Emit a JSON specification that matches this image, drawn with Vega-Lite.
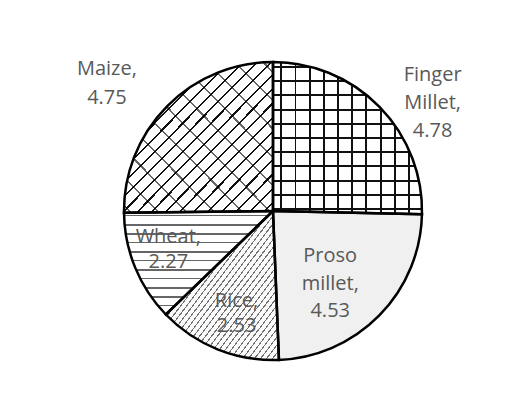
{
  "$schema": "https://vega.github.io/schema/vega-lite/v6.json",
  "width": 486,
  "height": 382,
  "autosize": {"type": "none"},
  "padding": {"left": 30, "top": 20, "right": 0, "bottom": 0},
  "background": "white",
  "config": {"view": {"stroke": null}},
  "data": {
    "values": [
      {"crop": "Finger Millet", "value": 4.78, "label": "Finger|Millet,|4.78", "order": 1},
      {"crop": "Proso millet", "value": 4.53, "label": "Proso|millet,|4.53", "order": 2},
      {"crop": "Rice", "value": 2.53, "label": "Rice,|2.53", "order": 3},
      {"crop": "Wheat", "value": 2.27, "label": "Wheat,|2.27", "order": 4},
      {"crop": "Maize", "value": 4.75, "label": "Maize,|4.75", "order": 5}
    ]
  },
  "encoding": {
    "theta": {"field": "value", "type": "quantitative", "stack": true},
    "order": {"field": "order", "type": "quantitative"}
  },
  "layer": [
    {
      "mark": {"type": "arc", "outerRadius": 149, "strokeWidth": 0},
      "encoding": {
        "color": {
          "field": "crop",
          "type": "nominal",
          "scale": {
            "domain": ["Finger Millet", "Proso millet", "Rice", "Wheat", "Maize"],
            "range": ["#ffffff", "#f0f0f0", "#fafafa", "#ffffff", "#ffffff"]
          },
          "legend": null
        }
      }
    },
    {
      "mark": {"type": "arc", "outerRadius": 149, "strokeWidth": 0},
      "encoding": {
        "fill": {
          "condition": {
            "test": "datum.crop == 'Finger Millet'",
            "value": {
              "gradient": "linear", "x1": 0, "y1": 0, "x2": 1, "y2": 0,
              "stops": [
                {"offset": 0.049, "color": "rgba(0,0,0,0)"}, {"offset": 0.049, "color": "#111111"}, {"offset": 0.0624, "color": "#111111"}, {"offset": 0.0624, "color": "rgba(0,0,0,0)"},
                {"offset": 0.1443, "color": "rgba(0,0,0,0)"}, {"offset": 0.1443, "color": "#111111"}, {"offset": 0.1577, "color": "#111111"}, {"offset": 0.1577, "color": "rgba(0,0,0,0)"},
                {"offset": 0.2396, "color": "rgba(0,0,0,0)"}, {"offset": 0.2396, "color": "#111111"}, {"offset": 0.253, "color": "#111111"}, {"offset": 0.253, "color": "rgba(0,0,0,0)"},
                {"offset": 0.3349, "color": "rgba(0,0,0,0)"}, {"offset": 0.3349, "color": "#111111"}, {"offset": 0.3483, "color": "#111111"}, {"offset": 0.3483, "color": "rgba(0,0,0,0)"},
                {"offset": 0.4302, "color": "rgba(0,0,0,0)"}, {"offset": 0.4302, "color": "#111111"}, {"offset": 0.4436, "color": "#111111"}, {"offset": 0.4436, "color": "rgba(0,0,0,0)"},
                {"offset": 0.5255, "color": "rgba(0,0,0,0)"}, {"offset": 0.5255, "color": "#111111"}, {"offset": 0.5389, "color": "#111111"}, {"offset": 0.5389, "color": "rgba(0,0,0,0)"},
                {"offset": 0.6208, "color": "rgba(0,0,0,0)"}, {"offset": 0.6208, "color": "#111111"}, {"offset": 0.6342, "color": "#111111"}, {"offset": 0.6342, "color": "rgba(0,0,0,0)"},
                {"offset": 0.7161, "color": "rgba(0,0,0,0)"}, {"offset": 0.7161, "color": "#111111"}, {"offset": 0.7295, "color": "#111111"}, {"offset": 0.7295, "color": "rgba(0,0,0,0)"},
                {"offset": 0.8114, "color": "rgba(0,0,0,0)"}, {"offset": 0.8114, "color": "#111111"}, {"offset": 0.8248, "color": "#111111"}, {"offset": 0.8248, "color": "rgba(0,0,0,0)"},
                {"offset": 0.9067, "color": "rgba(0,0,0,0)"}, {"offset": 0.9067, "color": "#111111"}, {"offset": 0.9201, "color": "#111111"}, {"offset": 0.9201, "color": "rgba(0,0,0,0)"}
              ]
            }
          },
          "value": "rgba(0,0,0,0)"
        }
      }
    },
    {
      "mark": {"type": "arc", "outerRadius": 149, "strokeWidth": 0},
      "encoding": {
        "fill": {
          "condition": {
            "test": "datum.crop == 'Finger Millet'",
            "value": {
              "gradient": "linear", "x1": 0, "y1": 0, "x2": 0, "y2": 1,
              "stops": [
                {"offset": 0.0263, "color": "rgba(0,0,0,0)"}, {"offset": 0.0263, "color": "#111111"}, {"offset": 0.0394, "color": "#111111"}, {"offset": 0.0394, "color": "rgba(0,0,0,0)"},
                {"offset": 0.1197, "color": "rgba(0,0,0,0)"}, {"offset": 0.1197, "color": "#111111"}, {"offset": 0.1328, "color": "#111111"}, {"offset": 0.1328, "color": "rgba(0,0,0,0)"},
                {"offset": 0.213, "color": "rgba(0,0,0,0)"}, {"offset": 0.213, "color": "#111111"}, {"offset": 0.2261, "color": "#111111"}, {"offset": 0.2261, "color": "rgba(0,0,0,0)"},
                {"offset": 0.3064, "color": "rgba(0,0,0,0)"}, {"offset": 0.3064, "color": "#111111"}, {"offset": 0.3195, "color": "#111111"}, {"offset": 0.3195, "color": "rgba(0,0,0,0)"},
                {"offset": 0.3997, "color": "rgba(0,0,0,0)"}, {"offset": 0.3997, "color": "#111111"}, {"offset": 0.4128, "color": "#111111"}, {"offset": 0.4128, "color": "rgba(0,0,0,0)"},
                {"offset": 0.4931, "color": "rgba(0,0,0,0)"}, {"offset": 0.4931, "color": "#111111"}, {"offset": 0.5062, "color": "#111111"}, {"offset": 0.5062, "color": "rgba(0,0,0,0)"},
                {"offset": 0.5865, "color": "rgba(0,0,0,0)"}, {"offset": 0.5865, "color": "#111111"}, {"offset": 0.5996, "color": "#111111"}, {"offset": 0.5996, "color": "rgba(0,0,0,0)"},
                {"offset": 0.6798, "color": "rgba(0,0,0,0)"}, {"offset": 0.6798, "color": "#111111"}, {"offset": 0.6929, "color": "#111111"}, {"offset": 0.6929, "color": "rgba(0,0,0,0)"},
                {"offset": 0.7732, "color": "rgba(0,0,0,0)"}, {"offset": 0.7732, "color": "#111111"}, {"offset": 0.7863, "color": "#111111"}, {"offset": 0.7863, "color": "rgba(0,0,0,0)"},
                {"offset": 0.8665, "color": "rgba(0,0,0,0)"}, {"offset": 0.8665, "color": "#111111"}, {"offset": 0.8796, "color": "#111111"}, {"offset": 0.8796, "color": "rgba(0,0,0,0)"},
                {"offset": 0.9599, "color": "rgba(0,0,0,0)"}, {"offset": 0.9599, "color": "#111111"}, {"offset": 0.973, "color": "#111111"}, {"offset": 0.973, "color": "rgba(0,0,0,0)"}
              ]
            }
          },
          "value": "rgba(0,0,0,0)"
        }
      }
    },
    {
      "mark": {"type": "arc", "outerRadius": 149, "strokeWidth": 0},
      "encoding": {
        "fill": {
          "condition": {
            "test": "datum.crop == 'Maize'",
            "value": {
              "gradient": "linear", "x1": 0, "y1": 0, "x2": 1, "y2": 1,
              "stops": [
                {"offset": 0.02, "color": "rgba(0,0,0,0)"}, {"offset": 0.02, "color": "#111111"}, {"offset": 0.0271, "color": "#111111"}, {"offset": 0.0271, "color": "rgba(0,0,0,0)"},
                {"offset": 0.0671, "color": "rgba(0,0,0,0)"}, {"offset": 0.0671, "color": "#111111"}, {"offset": 0.0742, "color": "#111111"}, {"offset": 0.0742, "color": "rgba(0,0,0,0)"},
                {"offset": 0.1142, "color": "rgba(0,0,0,0)"}, {"offset": 0.1142, "color": "#111111"}, {"offset": 0.1213, "color": "#111111"}, {"offset": 0.1213, "color": "rgba(0,0,0,0)"},
                {"offset": 0.1613, "color": "rgba(0,0,0,0)"}, {"offset": 0.1613, "color": "#111111"}, {"offset": 0.1684, "color": "#111111"}, {"offset": 0.1684, "color": "rgba(0,0,0,0)"},
                {"offset": 0.2084, "color": "rgba(0,0,0,0)"}, {"offset": 0.2084, "color": "#111111"}, {"offset": 0.2155, "color": "#111111"}, {"offset": 0.2155, "color": "rgba(0,0,0,0)"},
                {"offset": 0.2555, "color": "rgba(0,0,0,0)"}, {"offset": 0.2555, "color": "#111111"}, {"offset": 0.2626, "color": "#111111"}, {"offset": 0.2626, "color": "rgba(0,0,0,0)"},
                {"offset": 0.3026, "color": "rgba(0,0,0,0)"}, {"offset": 0.3026, "color": "#111111"}, {"offset": 0.3097, "color": "#111111"}, {"offset": 0.3097, "color": "rgba(0,0,0,0)"},
                {"offset": 0.3497, "color": "rgba(0,0,0,0)"}, {"offset": 0.3497, "color": "#111111"}, {"offset": 0.3568, "color": "#111111"}, {"offset": 0.3568, "color": "rgba(0,0,0,0)"},
                {"offset": 0.3968, "color": "rgba(0,0,0,0)"}, {"offset": 0.3968, "color": "#111111"}, {"offset": 0.4039, "color": "#111111"}, {"offset": 0.4039, "color": "rgba(0,0,0,0)"},
                {"offset": 0.4439, "color": "rgba(0,0,0,0)"}, {"offset": 0.4439, "color": "#111111"}, {"offset": 0.451, "color": "#111111"}, {"offset": 0.451, "color": "rgba(0,0,0,0)"},
                {"offset": 0.491, "color": "rgba(0,0,0,0)"}, {"offset": 0.491, "color": "#111111"}, {"offset": 0.4981, "color": "#111111"}, {"offset": 0.4981, "color": "rgba(0,0,0,0)"},
                {"offset": 0.5381, "color": "rgba(0,0,0,0)"}, {"offset": 0.5381, "color": "#111111"}, {"offset": 0.5452, "color": "#111111"}, {"offset": 0.5452, "color": "rgba(0,0,0,0)"},
                {"offset": 0.5852, "color": "rgba(0,0,0,0)"}, {"offset": 0.5852, "color": "#111111"}, {"offset": 0.5923, "color": "#111111"}, {"offset": 0.5923, "color": "rgba(0,0,0,0)"},
                {"offset": 0.6323, "color": "rgba(0,0,0,0)"}, {"offset": 0.6323, "color": "#111111"}, {"offset": 0.6394, "color": "#111111"}, {"offset": 0.6394, "color": "rgba(0,0,0,0)"},
                {"offset": 0.6794, "color": "rgba(0,0,0,0)"}, {"offset": 0.6794, "color": "#111111"}, {"offset": 0.6865, "color": "#111111"}, {"offset": 0.6865, "color": "rgba(0,0,0,0)"},
                {"offset": 0.7265, "color": "rgba(0,0,0,0)"}, {"offset": 0.7265, "color": "#111111"}, {"offset": 0.7336, "color": "#111111"}, {"offset": 0.7336, "color": "rgba(0,0,0,0)"},
                {"offset": 0.7736, "color": "rgba(0,0,0,0)"}, {"offset": 0.7736, "color": "#111111"}, {"offset": 0.7807, "color": "#111111"}, {"offset": 0.7807, "color": "rgba(0,0,0,0)"},
                {"offset": 0.8207, "color": "rgba(0,0,0,0)"}, {"offset": 0.8207, "color": "#111111"}, {"offset": 0.8278, "color": "#111111"}, {"offset": 0.8278, "color": "rgba(0,0,0,0)"},
                {"offset": 0.8678, "color": "rgba(0,0,0,0)"}, {"offset": 0.8678, "color": "#111111"}, {"offset": 0.8749, "color": "#111111"}, {"offset": 0.8749, "color": "rgba(0,0,0,0)"},
                {"offset": 0.9149, "color": "rgba(0,0,0,0)"}, {"offset": 0.9149, "color": "#111111"}, {"offset": 0.922, "color": "#111111"}, {"offset": 0.922, "color": "rgba(0,0,0,0)"},
                {"offset": 0.962, "color": "rgba(0,0,0,0)"}, {"offset": 0.962, "color": "#111111"}, {"offset": 0.9691, "color": "#111111"}, {"offset": 0.9691, "color": "rgba(0,0,0,0)"}
              ]
            }
          },
          "value": "rgba(0,0,0,0)"
        }
      }
    },
    {
      "mark": {"type": "arc", "outerRadius": 149, "strokeWidth": 0},
      "encoding": {
        "fill": {
          "condition": {
            "test": "datum.crop == 'Maize'",
            "value": {
              "gradient": "linear", "x1": 1, "y1": 0, "x2": 0, "y2": 1,
              "stops": [
                {"offset": 0.03, "color": "rgba(0,0,0,0)"}, {"offset": 0.03, "color": "rgba(0,0,0,0.6)"}, {"offset": 0.0371, "color": "rgba(0,0,0,0.6)"}, {"offset": 0.0371, "color": "rgba(0,0,0,0)"},
                {"offset": 0.1243, "color": "rgba(0,0,0,0)"}, {"offset": 0.1243, "color": "rgba(0,0,0,0.6)"}, {"offset": 0.1314, "color": "rgba(0,0,0,0.6)"}, {"offset": 0.1314, "color": "rgba(0,0,0,0)"},
                {"offset": 0.2186, "color": "rgba(0,0,0,0)"}, {"offset": 0.2186, "color": "rgba(0,0,0,0.6)"}, {"offset": 0.2257, "color": "rgba(0,0,0,0.6)"}, {"offset": 0.2257, "color": "rgba(0,0,0,0)"},
                {"offset": 0.3129, "color": "rgba(0,0,0,0)"}, {"offset": 0.3129, "color": "rgba(0,0,0,0.6)"}, {"offset": 0.32, "color": "rgba(0,0,0,0.6)"}, {"offset": 0.32, "color": "rgba(0,0,0,0)"},
                {"offset": 0.4072, "color": "rgba(0,0,0,0)"}, {"offset": 0.4072, "color": "rgba(0,0,0,0.6)"}, {"offset": 0.4143, "color": "rgba(0,0,0,0.6)"}, {"offset": 0.4143, "color": "rgba(0,0,0,0)"},
                {"offset": 0.5015, "color": "rgba(0,0,0,0)"}, {"offset": 0.5015, "color": "rgba(0,0,0,0.6)"}, {"offset": 0.5086, "color": "rgba(0,0,0,0.6)"}, {"offset": 0.5086, "color": "rgba(0,0,0,0)"},
                {"offset": 0.5958, "color": "rgba(0,0,0,0)"}, {"offset": 0.5958, "color": "rgba(0,0,0,0.6)"}, {"offset": 0.6029, "color": "rgba(0,0,0,0.6)"}, {"offset": 0.6029, "color": "rgba(0,0,0,0)"},
                {"offset": 0.6901, "color": "rgba(0,0,0,0)"}, {"offset": 0.6901, "color": "rgba(0,0,0,0.6)"}, {"offset": 0.6972, "color": "rgba(0,0,0,0.6)"}, {"offset": 0.6972, "color": "rgba(0,0,0,0)"},
                {"offset": 0.7844, "color": "rgba(0,0,0,0)"}, {"offset": 0.7844, "color": "rgba(0,0,0,0.6)"}, {"offset": 0.7915, "color": "rgba(0,0,0,0.6)"}, {"offset": 0.7915, "color": "rgba(0,0,0,0)"},
                {"offset": 0.8787, "color": "rgba(0,0,0,0)"}, {"offset": 0.8787, "color": "rgba(0,0,0,0.6)"}, {"offset": 0.8858, "color": "rgba(0,0,0,0.6)"}, {"offset": 0.8858, "color": "rgba(0,0,0,0)"},
                {"offset": 0.973, "color": "rgba(0,0,0,0)"}, {"offset": 0.973, "color": "rgba(0,0,0,0.6)"}, {"offset": 0.9801, "color": "rgba(0,0,0,0.6)"}, {"offset": 0.9801, "color": "rgba(0,0,0,0)"}
              ]
            }
          },
          "value": "rgba(0,0,0,0)"
        }
      }
    },
    {
      "mark": {"type": "arc", "outerRadius": 149, "strokeWidth": 0},
      "encoding": {
        "fill": {
          "condition": {
            "test": "datum.crop == 'Rice'",
            "value": {
              "gradient": "linear", "x1": 0, "y1": 0, "x2": 1, "y2": 1,
              "stops": [
                {"offset": 0.01, "color": "rgba(0,0,0,0)"}, {"offset": 0.01, "color": "rgba(0,0,0,0.55)"}, {"offset": 0.0158, "color": "rgba(0,0,0,0.55)"}, {"offset": 0.0158, "color": "rgba(0,0,0,0)"},
                {"offset": 0.0365, "color": "rgba(0,0,0,0)"}, {"offset": 0.0365, "color": "rgba(0,0,0,0.55)"}, {"offset": 0.0423, "color": "rgba(0,0,0,0.55)"}, {"offset": 0.0423, "color": "rgba(0,0,0,0)"},
                {"offset": 0.063, "color": "rgba(0,0,0,0)"}, {"offset": 0.063, "color": "rgba(0,0,0,0.55)"}, {"offset": 0.0688, "color": "rgba(0,0,0,0.55)"}, {"offset": 0.0688, "color": "rgba(0,0,0,0)"},
                {"offset": 0.0895, "color": "rgba(0,0,0,0)"}, {"offset": 0.0895, "color": "rgba(0,0,0,0.55)"}, {"offset": 0.0953, "color": "rgba(0,0,0,0.55)"}, {"offset": 0.0953, "color": "rgba(0,0,0,0)"},
                {"offset": 0.116, "color": "rgba(0,0,0,0)"}, {"offset": 0.116, "color": "rgba(0,0,0,0.55)"}, {"offset": 0.1218, "color": "rgba(0,0,0,0.55)"}, {"offset": 0.1218, "color": "rgba(0,0,0,0)"},
                {"offset": 0.1425, "color": "rgba(0,0,0,0)"}, {"offset": 0.1425, "color": "rgba(0,0,0,0.55)"}, {"offset": 0.1483, "color": "rgba(0,0,0,0.55)"}, {"offset": 0.1483, "color": "rgba(0,0,0,0)"},
                {"offset": 0.169, "color": "rgba(0,0,0,0)"}, {"offset": 0.169, "color": "rgba(0,0,0,0.55)"}, {"offset": 0.1748, "color": "rgba(0,0,0,0.55)"}, {"offset": 0.1748, "color": "rgba(0,0,0,0)"},
                {"offset": 0.1955, "color": "rgba(0,0,0,0)"}, {"offset": 0.1955, "color": "rgba(0,0,0,0.55)"}, {"offset": 0.2013, "color": "rgba(0,0,0,0.55)"}, {"offset": 0.2013, "color": "rgba(0,0,0,0)"},
                {"offset": 0.222, "color": "rgba(0,0,0,0)"}, {"offset": 0.222, "color": "rgba(0,0,0,0.55)"}, {"offset": 0.2278, "color": "rgba(0,0,0,0.55)"}, {"offset": 0.2278, "color": "rgba(0,0,0,0)"},
                {"offset": 0.2485, "color": "rgba(0,0,0,0)"}, {"offset": 0.2485, "color": "rgba(0,0,0,0.55)"}, {"offset": 0.2543, "color": "rgba(0,0,0,0.55)"}, {"offset": 0.2543, "color": "rgba(0,0,0,0)"},
                {"offset": 0.275, "color": "rgba(0,0,0,0)"}, {"offset": 0.275, "color": "rgba(0,0,0,0.55)"}, {"offset": 0.2808, "color": "rgba(0,0,0,0.55)"}, {"offset": 0.2808, "color": "rgba(0,0,0,0)"},
                {"offset": 0.3015, "color": "rgba(0,0,0,0)"}, {"offset": 0.3015, "color": "rgba(0,0,0,0.55)"}, {"offset": 0.3073, "color": "rgba(0,0,0,0.55)"}, {"offset": 0.3073, "color": "rgba(0,0,0,0)"},
                {"offset": 0.328, "color": "rgba(0,0,0,0)"}, {"offset": 0.328, "color": "rgba(0,0,0,0.55)"}, {"offset": 0.3338, "color": "rgba(0,0,0,0.55)"}, {"offset": 0.3338, "color": "rgba(0,0,0,0)"},
                {"offset": 0.3545, "color": "rgba(0,0,0,0)"}, {"offset": 0.3545, "color": "rgba(0,0,0,0.55)"}, {"offset": 0.3603, "color": "rgba(0,0,0,0.55)"}, {"offset": 0.3603, "color": "rgba(0,0,0,0)"},
                {"offset": 0.381, "color": "rgba(0,0,0,0)"}, {"offset": 0.381, "color": "rgba(0,0,0,0.55)"}, {"offset": 0.3868, "color": "rgba(0,0,0,0.55)"}, {"offset": 0.3868, "color": "rgba(0,0,0,0)"},
                {"offset": 0.4075, "color": "rgba(0,0,0,0)"}, {"offset": 0.4075, "color": "rgba(0,0,0,0.55)"}, {"offset": 0.4133, "color": "rgba(0,0,0,0.55)"}, {"offset": 0.4133, "color": "rgba(0,0,0,0)"},
                {"offset": 0.434, "color": "rgba(0,0,0,0)"}, {"offset": 0.434, "color": "rgba(0,0,0,0.55)"}, {"offset": 0.4398, "color": "rgba(0,0,0,0.55)"}, {"offset": 0.4398, "color": "rgba(0,0,0,0)"},
                {"offset": 0.4605, "color": "rgba(0,0,0,0)"}, {"offset": 0.4605, "color": "rgba(0,0,0,0.55)"}, {"offset": 0.4663, "color": "rgba(0,0,0,0.55)"}, {"offset": 0.4663, "color": "rgba(0,0,0,0)"},
                {"offset": 0.487, "color": "rgba(0,0,0,0)"}, {"offset": 0.487, "color": "rgba(0,0,0,0.55)"}, {"offset": 0.4928, "color": "rgba(0,0,0,0.55)"}, {"offset": 0.4928, "color": "rgba(0,0,0,0)"},
                {"offset": 0.5135, "color": "rgba(0,0,0,0)"}, {"offset": 0.5135, "color": "rgba(0,0,0,0.55)"}, {"offset": 0.5193, "color": "rgba(0,0,0,0.55)"}, {"offset": 0.5193, "color": "rgba(0,0,0,0)"},
                {"offset": 0.54, "color": "rgba(0,0,0,0)"}, {"offset": 0.54, "color": "rgba(0,0,0,0.55)"}, {"offset": 0.5458, "color": "rgba(0,0,0,0.55)"}, {"offset": 0.5458, "color": "rgba(0,0,0,0)"},
                {"offset": 0.5665, "color": "rgba(0,0,0,0)"}, {"offset": 0.5665, "color": "rgba(0,0,0,0.55)"}, {"offset": 0.5723, "color": "rgba(0,0,0,0.55)"}, {"offset": 0.5723, "color": "rgba(0,0,0,0)"},
                {"offset": 0.593, "color": "rgba(0,0,0,0)"}, {"offset": 0.593, "color": "rgba(0,0,0,0.55)"}, {"offset": 0.5988, "color": "rgba(0,0,0,0.55)"}, {"offset": 0.5988, "color": "rgba(0,0,0,0)"},
                {"offset": 0.6195, "color": "rgba(0,0,0,0)"}, {"offset": 0.6195, "color": "rgba(0,0,0,0.55)"}, {"offset": 0.6253, "color": "rgba(0,0,0,0.55)"}, {"offset": 0.6253, "color": "rgba(0,0,0,0)"},
                {"offset": 0.646, "color": "rgba(0,0,0,0)"}, {"offset": 0.646, "color": "rgba(0,0,0,0.55)"}, {"offset": 0.6518, "color": "rgba(0,0,0,0.55)"}, {"offset": 0.6518, "color": "rgba(0,0,0,0)"},
                {"offset": 0.6725, "color": "rgba(0,0,0,0)"}, {"offset": 0.6725, "color": "rgba(0,0,0,0.55)"}, {"offset": 0.6783, "color": "rgba(0,0,0,0.55)"}, {"offset": 0.6783, "color": "rgba(0,0,0,0)"},
                {"offset": 0.699, "color": "rgba(0,0,0,0)"}, {"offset": 0.699, "color": "rgba(0,0,0,0.55)"}, {"offset": 0.7048, "color": "rgba(0,0,0,0.55)"}, {"offset": 0.7048, "color": "rgba(0,0,0,0)"},
                {"offset": 0.7255, "color": "rgba(0,0,0,0)"}, {"offset": 0.7255, "color": "rgba(0,0,0,0.55)"}, {"offset": 0.7313, "color": "rgba(0,0,0,0.55)"}, {"offset": 0.7313, "color": "rgba(0,0,0,0)"},
                {"offset": 0.752, "color": "rgba(0,0,0,0)"}, {"offset": 0.752, "color": "rgba(0,0,0,0.55)"}, {"offset": 0.7578, "color": "rgba(0,0,0,0.55)"}, {"offset": 0.7578, "color": "rgba(0,0,0,0)"},
                {"offset": 0.7785, "color": "rgba(0,0,0,0)"}, {"offset": 0.7785, "color": "rgba(0,0,0,0.55)"}, {"offset": 0.7843, "color": "rgba(0,0,0,0.55)"}, {"offset": 0.7843, "color": "rgba(0,0,0,0)"},
                {"offset": 0.805, "color": "rgba(0,0,0,0)"}, {"offset": 0.805, "color": "rgba(0,0,0,0.55)"}, {"offset": 0.8108, "color": "rgba(0,0,0,0.55)"}, {"offset": 0.8108, "color": "rgba(0,0,0,0)"},
                {"offset": 0.8315, "color": "rgba(0,0,0,0)"}, {"offset": 0.8315, "color": "rgba(0,0,0,0.55)"}, {"offset": 0.8373, "color": "rgba(0,0,0,0.55)"}, {"offset": 0.8373, "color": "rgba(0,0,0,0)"},
                {"offset": 0.858, "color": "rgba(0,0,0,0)"}, {"offset": 0.858, "color": "rgba(0,0,0,0.55)"}, {"offset": 0.8638, "color": "rgba(0,0,0,0.55)"}, {"offset": 0.8638, "color": "rgba(0,0,0,0)"},
                {"offset": 0.8845, "color": "rgba(0,0,0,0)"}, {"offset": 0.8845, "color": "rgba(0,0,0,0.55)"}, {"offset": 0.8903, "color": "rgba(0,0,0,0.55)"}, {"offset": 0.8903, "color": "rgba(0,0,0,0)"},
                {"offset": 0.911, "color": "rgba(0,0,0,0)"}, {"offset": 0.911, "color": "rgba(0,0,0,0.55)"}, {"offset": 0.9168, "color": "rgba(0,0,0,0.55)"}, {"offset": 0.9168, "color": "rgba(0,0,0,0)"},
                {"offset": 0.9375, "color": "rgba(0,0,0,0)"}, {"offset": 0.9375, "color": "rgba(0,0,0,0.55)"}, {"offset": 0.9433, "color": "rgba(0,0,0,0.55)"}, {"offset": 0.9433, "color": "rgba(0,0,0,0)"},
                {"offset": 0.964, "color": "rgba(0,0,0,0)"}, {"offset": 0.964, "color": "rgba(0,0,0,0.55)"}, {"offset": 0.9698, "color": "rgba(0,0,0,0.55)"}, {"offset": 0.9698, "color": "rgba(0,0,0,0)"}
              ]
            }
          },
          "value": "rgba(0,0,0,0)"
        }
      }
    },
    {
      "mark": {"type": "arc", "outerRadius": 149, "strokeWidth": 0},
      "encoding": {
        "fill": {
          "condition": {
            "test": "datum.crop == 'Wheat'",
            "value": {
              "gradient": "linear", "x1": 0, "y1": 0, "x2": 0, "y2": 1,
              "stops": [
                {"offset": 0.0386, "color": "rgba(0,0,0,0)"}, {"offset": 0.0386, "color": "rgba(0,0,0,0.6)"}, {"offset": 0.0531, "color": "rgba(0,0,0,0.6)"}, {"offset": 0.0531, "color": "rgba(0,0,0,0)"},
                {"offset": 0.1256, "color": "rgba(0,0,0,0)"}, {"offset": 0.1256, "color": "rgba(0,0,0,0.6)"}, {"offset": 0.1401, "color": "rgba(0,0,0,0.6)"}, {"offset": 0.1401, "color": "rgba(0,0,0,0)"},
                {"offset": 0.2126, "color": "rgba(0,0,0,0)"}, {"offset": 0.2126, "color": "rgba(0,0,0,0.6)"}, {"offset": 0.2271, "color": "rgba(0,0,0,0.6)"}, {"offset": 0.2271, "color": "rgba(0,0,0,0)"},
                {"offset": 0.2995, "color": "rgba(0,0,0,0)"}, {"offset": 0.2995, "color": "rgba(0,0,0,0.6)"}, {"offset": 0.314, "color": "rgba(0,0,0,0.6)"}, {"offset": 0.314, "color": "rgba(0,0,0,0)"},
                {"offset": 0.3865, "color": "rgba(0,0,0,0)"}, {"offset": 0.3865, "color": "rgba(0,0,0,0.6)"}, {"offset": 0.401, "color": "rgba(0,0,0,0.6)"}, {"offset": 0.401, "color": "rgba(0,0,0,0)"},
                {"offset": 0.4734, "color": "rgba(0,0,0,0)"}, {"offset": 0.4734, "color": "rgba(0,0,0,0.6)"}, {"offset": 0.4879, "color": "rgba(0,0,0,0.6)"}, {"offset": 0.4879, "color": "rgba(0,0,0,0)"},
                {"offset": 0.5604, "color": "rgba(0,0,0,0)"}, {"offset": 0.5604, "color": "rgba(0,0,0,0.6)"}, {"offset": 0.5749, "color": "rgba(0,0,0,0.6)"}, {"offset": 0.5749, "color": "rgba(0,0,0,0)"},
                {"offset": 0.6473, "color": "rgba(0,0,0,0)"}, {"offset": 0.6473, "color": "rgba(0,0,0,0.6)"}, {"offset": 0.6618, "color": "rgba(0,0,0,0.6)"}, {"offset": 0.6618, "color": "rgba(0,0,0,0)"},
                {"offset": 0.7343, "color": "rgba(0,0,0,0)"}, {"offset": 0.7343, "color": "rgba(0,0,0,0.6)"}, {"offset": 0.7488, "color": "rgba(0,0,0,0.6)"}, {"offset": 0.7488, "color": "rgba(0,0,0,0)"},
                {"offset": 0.8213, "color": "rgba(0,0,0,0)"}, {"offset": 0.8213, "color": "rgba(0,0,0,0.6)"}, {"offset": 0.8358, "color": "rgba(0,0,0,0.6)"}, {"offset": 0.8358, "color": "rgba(0,0,0,0)"},
                {"offset": 0.9082, "color": "rgba(0,0,0,0)"}, {"offset": 0.9082, "color": "rgba(0,0,0,0.6)"}, {"offset": 0.9227, "color": "rgba(0,0,0,0.6)"}, {"offset": 0.9227, "color": "rgba(0,0,0,0)"}
              ]
            }
          },
          "value": "rgba(0,0,0,0)"
        }
      }
    },
    {
      "mark": {"type": "arc", "outerRadius": 149, "filled": false, "color": "black", "strokeWidth": 2.5}
    },
    {
      "mark": {"type": "text", "radius": 194, "dx": 21, "dy": 0, "font": "Open Sans", "fontSize": 20, "lineHeight": 28, "lineBreak": "|", "color": "#595959", "align": "center", "baseline": "middle"},
      "encoding": {"text": {"condition": {"test": "datum.crop == 'Finger Millet'", "field": "label"}, "value": ""}}
    },
    {
      "mark": {"type": "text", "radius": 90, "dx": -7, "dy": -18, "font": "Open Sans", "fontSize": 20, "lineHeight": 27.5, "lineBreak": "|", "color": "#595959", "align": "center", "baseline": "middle"},
      "encoding": {"text": {"condition": {"test": "datum.crop == 'Proso millet'", "field": "label"}, "value": ""}}
    },
    {
      "mark": {"type": "text", "radius": 106, "dx": 3, "dy": -8, "font": "Open Sans", "fontSize": 20, "lineHeight": 25, "lineBreak": "|", "color": "#595959", "align": "center", "baseline": "middle"},
      "encoding": {"text": {"condition": {"test": "datum.crop == 'Rice'", "field": "label"}, "value": ""}}
    },
    {
      "mark": {"type": "text", "radius": 111, "dx": -2, "dy": -16, "font": "Open Sans", "fontSize": 20, "lineHeight": 25, "lineBreak": "|", "color": "#595959", "align": "center", "baseline": "middle"},
      "encoding": {"text": {"condition": {"test": "datum.crop == 'Wheat'", "field": "label"}, "value": ""}}
    },
    {
      "mark": {"type": "text", "radius": 211, "dx": -16, "dy": 6, "font": "Open Sans", "fontSize": 20, "lineHeight": 29, "lineBreak": "|", "color": "#595959", "align": "center", "baseline": "middle"},
      "encoding": {"text": {"condition": {"test": "datum.crop == 'Maize'", "field": "label"}, "value": ""}}
    }
  ]
}
